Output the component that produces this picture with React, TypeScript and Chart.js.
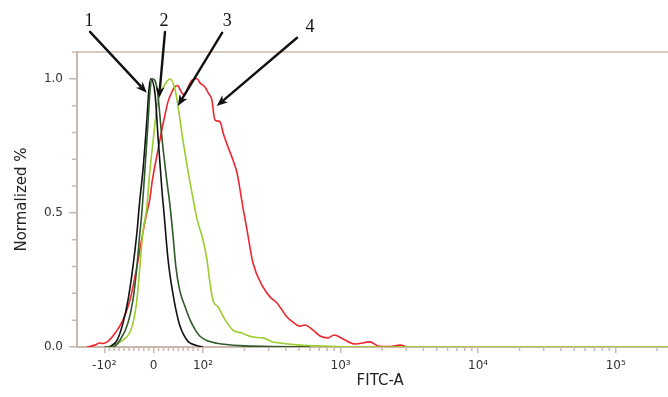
import React, { useEffect, useRef } from 'react';
import { Chart, registerables } from 'chart.js';

Chart.register(...registerables);

// ---- Data (FITC-A values, normalized %) ----
const blackX = [-89, -74, -62, -52, -42, -34, -28, -22, -14, -10, -6, 3, 9, 13, 17, 21, 25, 29, 33, 39, 45, 53, 61, 70, 84, 100];
const blackY = [0, 0.026, 0.09, 0.175, 0.299, 0.425, 0.549, 0.653, 0.84, 0.95, 1.0, 0.94, 0.78, 0.68, 0.58, 0.5, 0.41, 0.33, 0.27, 0.2, 0.14, 0.08, 0.045, 0.02, 0.007, 0];

const darkGreenX = [-100, -83, -68, -52, -42, -34, -28, -24, -18, -12, -8, -3, 7, 17, 27, 33, 39, 45, 53, 64, 74, 84, 94, 109, 126, 186, 307, 600];
const darkGreenY = [0, 0, 0.026, 0.09, 0.175, 0.299, 0.425, 0.5, 0.653, 0.82, 0.94, 1.0, 0.963, 0.776, 0.616, 0.53, 0.42, 0.3, 0.21, 0.149, 0.1, 0.065, 0.04, 0.022, 0.014, 0.005, 0.002, 0];

const lightGreenX = [-95, -83, -62, -44, -34, -28, -22, -14, -8, -1, 7, 17, 27, 33, 43, 49, 59, 70, 80, 88, 100, 107, 112, 118, 129, 145, 165, 192, 231, 273, 323, 363, 507, 943, 3800, 240000];
const lightGreenY = [0, 0.007, 0.026, 0.075, 0.175, 0.299, 0.425, 0.52, 0.65, 0.77, 0.9, 0.96, 0.99, 1.0, 0.963, 0.903, 0.776, 0.653, 0.552, 0.477, 0.4, 0.325, 0.245, 0.175, 0.149, 0.101, 0.063, 0.052, 0.037, 0.034, 0.019, 0.015, 0.007, 0.002, 0, 0];

const redX = [-134, -117, -108, -103, -94, -78, -62, -48, -34, -22, -14, -8, -3, 7, 17, 23, 29, 37, 43, 49, 53, 57, 63, 70, 78, 88, 94, 103, 110, 116, 122, 133, 140, 152, 165, 177, 186, 195, 209, 231, 273, 307, 345, 408, 451, 507, 552, 631, 709, 811, 897, 1043, 1275, 1639, 1874, 2290, 2710, 3045];
const redY = [0, 0.007, 0.015, 0.013, 0.019, 0.052, 0.101, 0.175, 0.299, 0.425, 0.5, 0.549, 0.617, 0.718, 0.813, 0.866, 0.914, 0.951, 0.97, 0.975, 0.962, 0.948, 0.94, 0.97, 0.995, 1.0, 0.985, 0.97, 0.945, 0.922, 0.847, 0.84, 0.799, 0.746, 0.698, 0.649, 0.586, 0.522, 0.437, 0.313, 0.224, 0.187, 0.164, 0.112, 0.093, 0.078, 0.082, 0.063, 0.041, 0.034, 0.045, 0.03, 0.011, 0.019, 0.004, 0.002, 0.007, 0];

// ---- Axes ----
const xMinFITC = -158;
const xMaxFITC = 240000;
const xTickValues = [-100, 0, 100, 1000, 10000, 100000];
const xTickLabels = ['-10²', '0', '10²', '10³', '10⁴', '10⁵'];
const yTickValues = [0, 0.5, 1.0];
const yTickLabels = ['0.0', '0.5', '1.0'];
const yMin = 0;
const yMax = 1.1;
const xTitle = 'FITC-A';
const yTitle = 'Normalized %';

// ---- Annotations (data coordinates) ----
const arrowLabels = ['1', '2', '3', '4'];
const arrowLabelX = [-129, 21, 150, 600];
const arrowLabelY = [1.216, 1.216, 1.216, 1.194];
const arrowFromX = [-127, 23, 138, 483];
const arrowFromY = [1.175, 1.175, 1.172, 1.153];
const arrowToX = [-14, 11, 49, 126];
const arrowToY = [0.948, 0.929, 0.899, 0.899];

const AXIS = '#cbb9ad';
const LIN = 0.3585; // width (in decades) of the linear 0..100 region

function biex(v: number): number {
  const a = Math.abs(v);
  const u = a <= 100 ? (a / 100) * LIN : LIN + Math.log10(a / 100);
  return v < 0 ? -u : u;
}

function toPoints(xs: number[], ys: number[]) {
  return xs.map((x, i) => ({ x: biex(x), y: ys[i] }));
}

const decor = {
  id: 'decor',
  afterDraw(chart: any) {
    const { ctx, chartArea } = chart;
    const xs = chart.scales.x;
    const ys = chart.scales.y;
    ctx.save();
    ctx.strokeStyle = AXIS;
    ctx.lineWidth = 1.5;
    ctx.beginPath();
    ctx.moveTo(chartArea.left - 5, chartArea.top);
    ctx.lineTo(chartArea.right, chartArea.top);
    for (let i = 1; i <= 9; i++) {
      if (i === 5) continue;
      const py = ys.getPixelForValue(i / 10);
      ctx.moveTo(chartArea.left - 5, py);
      ctx.lineTo(chartArea.left, py);
    }
    const minors: number[] = [];
    for (let i = 1; i <= 9; i++) { minors.push(i * 10); minors.push(-i * 10); }
    for (let d = 100; d <= 100000; d *= 10) {
      for (let m = 2; m <= 9; m++) minors.push(d * m);
    }
    for (const v of minors) {
      if (v < xMinFITC || v > xMaxFITC) continue;
      const px = xs.getPixelForValue(biex(v));
      ctx.moveTo(px, chartArea.bottom);
      ctx.lineTo(px, chartArea.bottom + 4);
    }
    ctx.stroke();

    // x axis title
    ctx.fillStyle = '#222';
    ctx.font = '15px "DejaVu Sans", sans-serif';
    ctx.textAlign = 'center';
    ctx.textBaseline = 'middle';
    ctx.fillText(xTitle, chartArea.left + (chartArea.right - chartArea.left) * 0.513, 381);

    // arrows
    ctx.strokeStyle = '#111';
    ctx.fillStyle = '#111';
    ctx.lineWidth = 2.4;
    ctx.lineCap = 'round';
    for (let i = 0; i < arrowLabels.length; i++) {
      const x0 = xs.getPixelForValue(biex(arrowFromX[i]));
      const y0 = ys.getPixelForValue(arrowFromY[i]);
      const x1 = xs.getPixelForValue(biex(arrowToX[i]));
      const y1 = ys.getPixelForValue(arrowToY[i]);
      const ang = Math.atan2(y1 - y0, x1 - x0);
      const len = 11;
      const hw = 4.5;
      const bx = x1 - len * Math.cos(ang);
      const by = y1 - len * Math.sin(ang);
      ctx.beginPath();
      ctx.moveTo(x0, y0);
      ctx.lineTo(bx + 2 * Math.cos(ang), by + 2 * Math.sin(ang));
      ctx.stroke();
      ctx.beginPath();
      ctx.moveTo(x1, y1);
      ctx.lineTo(bx - hw * Math.sin(ang), by + hw * Math.cos(ang));
      ctx.lineTo(bx + 3 * Math.cos(ang), by + 3 * Math.sin(ang));
      ctx.lineTo(bx + hw * Math.sin(ang), by - hw * Math.cos(ang));
      ctx.closePath();
      ctx.fill();
    }
    ctx.font = '18px "Liberation Serif", serif';
    for (let i = 0; i < arrowLabels.length; i++) {
      ctx.fillText(arrowLabels[i], xs.getPixelForValue(biex(arrowLabelX[i])), ys.getPixelForValue(arrowLabelY[i]));
    }
    ctx.restore();
  },
};

export default function App() {
  const ref = useRef<HTMLCanvasElement | null>(null);
  useEffect(() => {
    document.body.style.margin = '0';
    const canvas = ref.current;
    if (!canvas) return;
    const line = (label: string, xs: number[], ys: number[], color: string) => ({
      label,
      data: toPoints(xs, ys),
      borderColor: color,
      backgroundColor: color,
      borderWidth: 1.6,
      pointRadius: 0,
      fill: false,
      cubicInterpolationMode: 'monotone' as const,
    });
    const chart = new Chart(canvas, {
      type: 'line',
      data: {
        datasets: [
          line('2', darkGreenX, darkGreenY, '#2e5a28'),
          line('1', blackX, blackY, '#111111'),
          line('3', lightGreenX, lightGreenY, '#9ccc2e'),
          line('4', redX, redY, '#ee2630'),
        ],
      },
      options: {
        animation: false,
        responsive: false,
        devicePixelRatio: 1,
        layout: { padding: { top: 52, right: 0, left: 0, bottom: 0 } },
        plugins: { legend: { display: false }, tooltip: { enabled: false } },
        scales: {
          x: {
            type: 'linear',
            min: biex(xMinFITC),
            max: biex(xMaxFITC),
            afterFit: (s: any) => { s.height = 50; },
            afterBuildTicks: (s: any) => { s.ticks = xTickValues.map((v) => ({ value: biex(v) })); },
            ticks: {
              autoSkip: false,
              maxRotation: 0,
              padding: 6,
              color: '#333',
              font: { family: 'DejaVu Sans', size: 12 },
              callback: (_v: any, i: number) => xTickLabels[i],
            },
            grid: { drawOnChartArea: false, drawTicks: true, tickLength: 6, color: AXIS, lineWidth: 1.5 },
            border: { display: true, color: AXIS, width: 2 },
            title: { display: false },
          },
          y: {
            type: 'linear',
            min: yMin,
            max: yMax,
            afterFit: (s: any) => { s.width = 77; },
            afterBuildTicks: (s: any) => { s.ticks = yTickValues.map((v) => ({ value: v })); },
            ticks: {
              padding: 6,
              color: '#333',
              font: { family: 'DejaVu Sans', size: 12 },
              callback: (_v: any, i: number) => yTickLabels[i],
            },
            grid: { drawOnChartArea: false, drawTicks: true, tickLength: 8, color: AXIS, lineWidth: 1.5 },
            border: { display: true, color: AXIS, width: 2 },
            title: {
              display: true,
              text: yTitle,
              color: '#222',
              font: { family: 'DejaVu Sans', size: 15 },
              padding: { top: 13, bottom: 0 },
            },
          },
        },
      },
      plugins: [decor],
    });
    return () => chart.destroy();
  }, []);
  return (
    <div style={{ width: 668, height: 397 }}>
      <canvas ref={ref} width={668} height={397} style={{ display: 'block' }} />
    </div>
  );
}
